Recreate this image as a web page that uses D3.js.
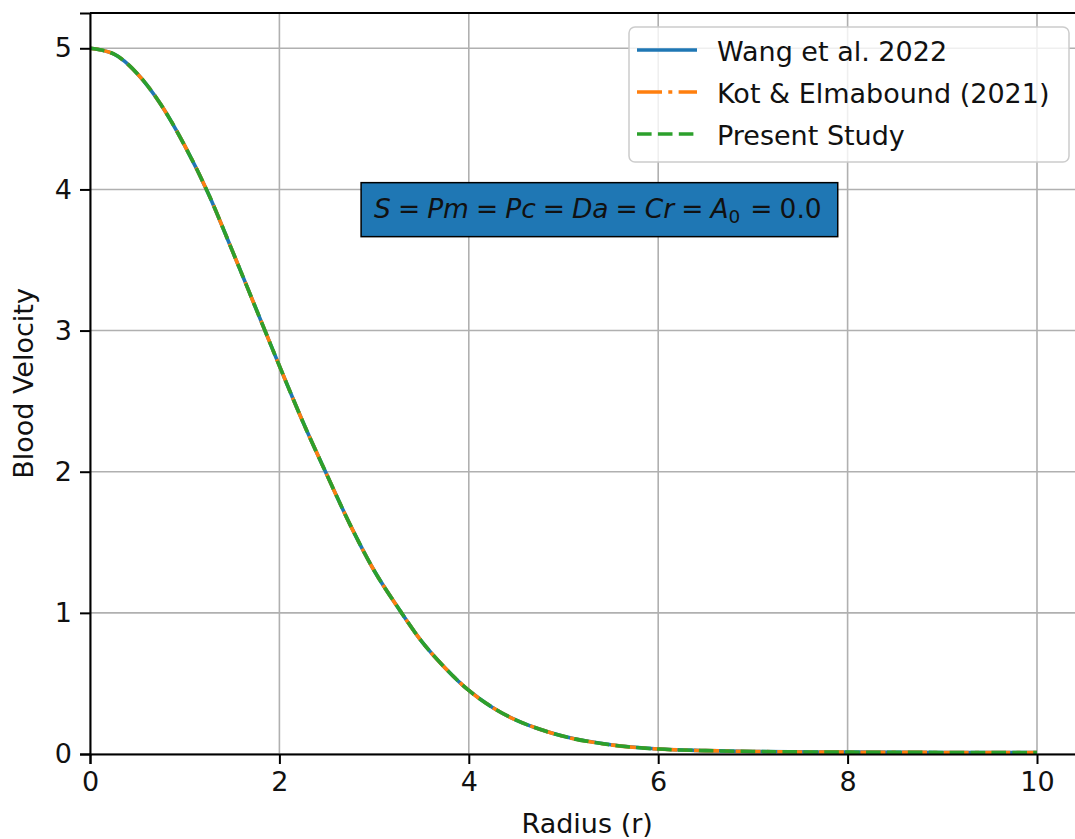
<!DOCTYPE html>
<html>
<head>
<meta charset="utf-8">
<script src="https://cdn.jsdelivr.net/npm/d3@7"></script>
<style>
    body { margin: 0; background: white; }
    svg { font-family: "DejaVu Sans", sans-serif; }
</style>
</head>
<body>
<div id="chart"></div>
<script>

// values
var radius   = [0, 0.25, 0.5, 0.75, 1.0, 1.25, 1.5, 1.75, 2.0, 2.25, 2.5, 2.75, 3.0, 3.25, 3.5, 3.75,
                4.0, 4.25, 4.5, 4.75, 5.0, 5.5, 6.0, 6.5, 7.0, 8.0, 9.0, 10.0];
var wang     = [5.00, 4.96, 4.82, 4.60, 4.31, 3.97, 3.57, 3.16, 2.75, 2.35, 1.98, 1.62, 1.30, 1.04, 0.80, 0.61,
                0.45, 0.33, 0.24, 0.175, 0.125, 0.065, 0.035, 0.024, 0.018, 0.013, 0.011, 0.010];
var kot      = wang.slice();
var present  = wang.slice();

var series_names = ['Wang et al. 2022', 'Kot & Elmabound (2021)', 'Present Study'];
var series_vals  = [wang, kot, present];
var colors       = ['#1f77b4', '#ff7f0e', '#2ca02c'];
var dashes       = [null, '25,6.3,4,6.3', '14.6,6.3'];

var x_ticks = [0, 2, 4, 6, 8, 10];
var y_ticks = [0, 1, 2, 3, 4, 5];

var width = 1075, height = 839;
var margin = {left: 90, top: 13, bottom: 85};
var font_size = 27;

var svg = d3.select('#chart')
    .append('svg')
    .attr('width', width)
    .attr('height', height);

var x = d3.scaleLinear()
    .domain([0, 10.5])
    .range([margin.left, margin.left + 10.5 * 94.7]);

var y = d3.scaleLinear()
    .domain([0, 5.25])
    .range([height - margin.bottom, margin.top]);

var plot_right = x.range()[1];

//grid
svg.append('g')
    .selectAll('line')
    .data(x_ticks)
    .enter()
    .append('line')
    .attr('x1', function(d) {return x(d);})
    .attr('x2', function(d) {return x(d);})
    .attr('y1', y(0))
    .attr('y2', y(5.25))
    .style('stroke', '#b0b0b0')
    .style('stroke-width', 1.6);

svg.append('g')
    .selectAll('line')
    .data(y_ticks)
    .enter()
    .append('line')
    .attr('x1', x(0))
    .attr('x2', plot_right)
    .attr('y1', function(d) {return y(d);})
    .attr('y2', function(d) {return y(d);})
    .style('stroke', '#b0b0b0')
    .style('stroke-width', 1.6);

//lines
var line = d3.line()
    .curve(d3.curveMonotoneX);

for (var i = 0; i < series_vals.length; ++i) {
    var pts = radius.map(function(r, j) {return [x(r), y(series_vals[i][j])];});
    var path = svg.append('path')
        .attr('d', line(pts))
        .style('fill', 'none')
        .style('stroke', colors[i])
        .style('stroke-width', 3.6);
    if (dashes[i]) {
        path.style('stroke-dasharray', dashes[i]);
    }
}

//axes
var x_axis = d3.axisBottom(x)
    .tickValues(x_ticks)
    .tickFormat(d3.format('d'))
    .tickSize(10)
    .tickPadding(8);

var y_axis = d3.axisLeft(y)
    .tickValues(y_ticks)
    .tickFormat(d3.format('d'))
    .tickSize(10)
    .tickPadding(8);

var gx = svg.append('g')
    .attr('transform', 'translate(0,' + y(0) + ')')
    .call(x_axis);

var gy = svg.append('g')
    .attr('transform', 'translate(' + x(0) + ',0)')
    .call(y_axis);

[gx, gy].forEach(function(g) {
    g.select('.domain').style('stroke', 'black').style('stroke-width', 2);
    g.selectAll('.tick line').style('stroke', 'black').style('stroke-width', 2);
    g.selectAll('.tick text')
        .style('font-size', font_size + 'px')
        .style('font-family', '"DejaVu Sans", sans-serif')
        .style('fill', '#111');
});

//top spine
svg.append('line')
    .attr('x1', x(0))
    .attr('x2', plot_right)
    .attr('y1', y(5.25))
    .attr('y2', y(5.25))
    .style('stroke', 'black')
    .style('stroke-width', 2);

//axis labels
svg.append('text')
    .attr('x', (x(0) + plot_right) / 2)
    .attr('y', 833)
    .style('text-anchor', 'middle')
    .style('font-size', font_size + 'px')
    .style('fill', '#111')
    .text('Radius (r)');

svg.append('text')
    .attr('transform', 'translate(33,' + (y(0) + y(5.25)) / 2 + ') rotate(-90)')
    .style('text-anchor', 'middle')
    .style('font-size', font_size + 'px')
    .style('fill', '#111')
    .text('Blood Velocity');

//parameter box
var parts = [
    {t: 'S', it: true}, {t: '=', eq: true}, {t: 'Pm', it: true}, {t: '=', eq: true},
    {t: 'Pc', it: true}, {t: '=', eq: true}, {t: 'Da', it: true}, {t: '=', eq: true},
    {t: 'Cr', it: true}, {t: '=', eq: true}, {t: 'A', it: true}, {t: '0', sub: true},
    {t: '=', eq: true}, {t: '0.0'}
];

var box = svg.append('g');
var box_rect = box.append('rect');
var box_text = box.append('text')
    .attr('x', x(3))
    .attr('y', y(3.8))
    .style('font-size', '26.5px')
    .style('fill', '#111');

parts.forEach(function(p, k) {
    var ts = box_text.append('tspan').text(p.t);
    if (p.it) ts.style('font-style', 'italic');
    if (p.eq) ts.attr('dx', 7);
    if (k > 0 && parts[k - 1].eq) ts.attr('dx', 7);
    if (p.sub) ts.style('font-size', '18.5px').attr('dy', 5);
    if (k > 0 && parts[k - 1].sub) ts.attr('dy', -5).attr('dx', 10);
});

var bb = box_text.node().getBBox();
box_rect
    .attr('x', bb.x - 13)
    .attr('y', bb.y - 10)
    .attr('width', bb.width + 29)
    .attr('height', bb.height + 20)
    .style('fill', '#1f77b4')
    .style('stroke', 'black')
    .style('stroke-width', 1.5);

//legend
var legend = svg.append('g')
    .attr('transform', 'translate(629,27)');

legend.append('rect')
    .attr('width', 440)
    .attr('height', 135)
    .attr('rx', 6)
    .style('fill', 'white')
    .style('fill-opacity', 0.8)
    .style('stroke', '#cccccc')
    .style('stroke-width', 1.5);

var items = legend.selectAll('.item')
    .data(series_names)
    .enter()
    .append('g')
    .attr('class', 'item')
    .attr('transform', function(d, i) {return 'translate(0,' + (23 + i * 42) + ')';});

items.append('line')
    .attr('x1', 8)
    .attr('x2', 68)
    .style('stroke', function(d, i) {return colors[i];})
    .style('stroke-width', 3.6)
    .style('stroke-dasharray', function(d, i) {return dashes[i];});

items.append('text')
    .attr('x', 88)
    .attr('y', 11)
    .style('font-size', font_size + 'px')
    .style('fill', '#111')
    .text(function(d) {return d;});

</script>
</body>
</html>
